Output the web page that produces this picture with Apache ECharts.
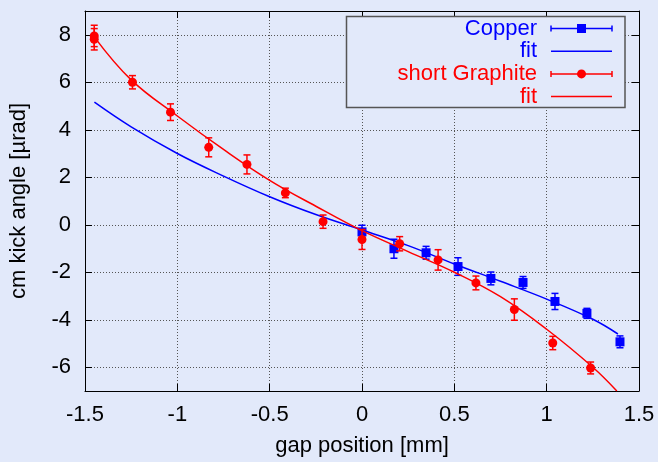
<!DOCTYPE html>
<html>
<head>
<meta charset="utf-8">
<script src="https://cdn.jsdelivr.net/npm/echarts@6/dist/echarts.min.js"></script>
<style>
html,body{margin:0;padding:0;background:#e2e9fa;}
#c{width:658px;height:462px;}
</style>
</head>
<body>
<div id="c"></div>
<script>
// ---- data ----
var copperX   = [0.0, 0.173, 0.347, 0.52, 0.698, 0.872, 1.045, 1.218, 1.397];
var copperY   = [-0.30, -1.01, -1.18, -1.76, -2.26, -2.43, -3.23, -3.73, -4.93];
var copperErr = [0.28, 0.40, 0.27, 0.37, 0.27, 0.25, 0.34, 0.21, 0.25];

var graphX   = [-1.45, -1.45, -1.243, -1.037, -0.83, -0.623, -0.415, -0.211, 0.0, 0.204, 0.412, 0.617, 0.825, 1.033, 1.238];
var graphY   = [7.95, 7.81, 6.0, 4.74, 3.26, 2.54, 1.34, 0.13, -0.62, -0.80, -1.48, -2.45, -3.57, -4.98, -6.03];
var graphErr = [0.45, 0.45, 0.28, 0.35, 0.40, 0.40, 0.20, 0.28, 0.42, 0.30, 0.43, 0.29, 0.45, 0.28, 0.25];

var copperFitX = [-1.449, -1.25, -1.0, -0.75, -0.5, -0.25, 0.0, 0.25, 0.5, 0.75, 1.0, 1.25, 1.386];
var copperFitY = [5.16, 4.12, 3.0, 2.05, 1.18, 0.43, -0.22, -0.88, -1.65, -2.38, -3.13, -3.98, -4.6];

var graphFitX = [-1.449, -1.25, -1.0, -0.75, -0.5, -0.25, 0.0, 0.25, 0.5, 0.75, 1.0, 1.25, 1.38];
var graphFitY = [7.9, 6.1, 4.58, 3.17, 1.87, 0.78, -0.25, -1.13, -2.0, -3.03, -4.4, -6.0, -7.0];

var xTicks = {min: -1.5, max: 1.5, interval: 0.5};
var yTicks = {min: -7, max: 9, splitNumber: 8};

var labels = {
  copper: 'Copper', fit: 'fit', graphite: 'short Graphite',
  xName: 'gap position [mm]', yName: 'cm kick angle [µrad]'
};

// ---- helpers ----
function zip(xs, ys) { return xs.map(function (x, i) { return [x, ys[i]]; }); }
function errData(xs, ys, es) { return xs.map(function (x, i) { return [x, ys[i] - es[i], ys[i] + es[i]]; }); }

var BLUE = '#0000ff', RED = '#ff0000', BG = '#e2e9fa';
var FONT = 'Liberation Sans';
var FS = 22;

function errorRender(color) {
  return function (params, api) {
    var x = api.value(0);
    var lo = api.coord([x, api.value(1)]);
    var hi = api.coord([x, api.value(2)]);
    var w = 3.5;
    var st = {stroke: color, lineWidth: 1.5};
    return {
      type: 'group',
      children: [
        {type: 'line', shape: {x1: lo[0], y1: lo[1], x2: hi[0], y2: hi[1]}, style: st},
        {type: 'line', shape: {x1: lo[0] - w, y1: lo[1], x2: lo[0] + w, y2: lo[1]}, style: st},
        {type: 'line', shape: {x1: hi[0] - w, y1: hi[1], x2: hi[0] + w, y2: hi[1]}, style: st}
      ]
    };
  };
}

var chart = echarts.init(document.getElementById('c'), null, {renderer: 'canvas'});

var axisTextStyle = {color: '#000', fontSize: FS, fontFamily: FONT};

function xAxisDef(pos, main) {
  return {
    type: 'value', position: pos,
    min: xTicks.min, max: xTicks.max, interval: xTicks.interval,
    axisLine: {show: true, onZero: false, lineStyle: {color: '#000', width: 1}},
    axisTick: {show: true, inside: true, length: 7, lineStyle: {color: '#000', width: 1}},
    axisLabel: main ? {show: true, margin: 13, color: '#000', fontSize: FS, fontFamily: FONT} : {show: false},
    splitLine: {show: main, lineStyle: {color: '#555', width: 1, type: [1, 2]}},
    name: main ? labels.xName : '',
    nameLocation: 'middle', nameGap: 44,
    nameTextStyle: axisTextStyle
  };
}
function yAxisDef(pos, main) {
  return {
    type: 'value', position: pos,
    min: yTicks.min, max: yTicks.max, splitNumber: yTicks.splitNumber,
    axisLine: {show: true, onZero: false, lineStyle: {color: '#000', width: 1}},
    axisTick: {show: true, inside: true, length: 7, lineStyle: {color: '#000', width: 1}},
    axisLabel: main ? {show: true, margin: 14, color: '#000', fontSize: FS, fontFamily: FONT,
      showMinLabel: false, showMaxLabel: false} : {show: false},
    splitLine: {show: main, lineStyle: {color: '#555', width: 1, type: [1, 2]}},
    name: main ? labels.yName : '',
    nameLocation: 'middle', nameGap: 55,
    nameTextStyle: axisTextStyle
  };
}

// legend layout
var LX = 346.5, LY = 16.5, LW = 278.5, LH = 91;
var textRight = 537, s1 = 551, s2 = 612, rows = [28.5, 51.2, 73.9, 96.6];
function legendText(t, y, color) {
  return {type: 'text', x: textRight, y: y, z: 101,
    style: {text: t, fill: color, font: FS + 'px "' + FONT + '"', align: 'right', verticalAlign: 'middle'}};
}
function legendLine(y, color) {
  return {type: 'line', z: 101, shape: {x1: s1, y1: y, x2: s2, y2: y}, style: {stroke: color, lineWidth: 1.5}};
}
function legendCaps(y, color) {
  return [
    {type: 'line', z: 101, shape: {x1: s1, y1: y - 3, x2: s1, y2: y + 3}, style: {stroke: color, lineWidth: 1.5}},
    {type: 'line', z: 101, shape: {x1: s2, y1: y - 3, x2: s2, y2: y + 3}, style: {stroke: color, lineWidth: 1.5}}
  ];
}
var mid = (s1 + s2) / 2;
var graphics = [
  {type: 'rect', z: 100, shape: {x: LX, y: LY, width: LW, height: LH},
    style: {fill: BG, stroke: '#555', lineWidth: 1.5}},
  legendText(labels.copper, rows[0], BLUE), legendLine(rows[0], BLUE),
  {type: 'rect', z: 102, shape: {x: mid - 4.5, y: rows[0] - 4.5, width: 9, height: 9}, style: {fill: BLUE}},
  legendText(labels.fit, rows[1], BLUE), legendLine(rows[1], BLUE),
  legendText(labels.graphite, rows[2], RED), legendLine(rows[2], RED),
  {type: 'circle', z: 102, shape: {cx: mid, cy: rows[2], r: 4.5}, style: {fill: RED}},
  legendText(labels.fit, rows[3], RED), legendLine(rows[3], RED)
].concat(legendCaps(rows[0], BLUE)).concat(legendCaps(rows[2], RED));

var option = {
  backgroundColor: BG,
  animation: false,
  grid: {left: 85, right: 19, top: 11, bottom: 70, show: false},
  xAxis: [xAxisDef('bottom', true), xAxisDef('top', false)],
  yAxis: [yAxisDef('left', true), yAxisDef('right', false)],
  graphic: graphics,
  series: [
    {type: 'custom', name: 'cuErr', renderItem: errorRender(BLUE), data: errData(copperX, copperY, copperErr),
      encode: {x: 0, y: [1, 2]}, z: 2, clip: true},
    {type: 'scatter', name: labels.copper, data: zip(copperX, copperY), symbol: 'rect', symbolSize: 9,
      itemStyle: {color: BLUE, opacity: 1}, z: 3},
    {type: 'line', name: 'cuFit', data: zip(copperFitX, copperFitY), smooth: 0.4, showSymbol: false,
      lineStyle: {color: BLUE, width: 1.5}, z: 4, clip: true},
    {type: 'custom', name: 'grErr', renderItem: errorRender(RED), data: errData(graphX, graphY, graphErr),
      encode: {x: 0, y: [1, 2]}, z: 5, clip: true},
    {type: 'scatter', name: labels.graphite, data: zip(graphX, graphY), symbol: 'circle', symbolSize: 9,
      itemStyle: {color: RED, opacity: 1}, z: 6},
    {type: 'line', name: 'grFit', data: zip(graphFitX, graphFitY), smooth: 0.4, showSymbol: false,
      lineStyle: {color: RED, width: 1.5}, z: 7, clip: true}
  ]
};
chart.setOption(option);
</script>
</body>
</html>
